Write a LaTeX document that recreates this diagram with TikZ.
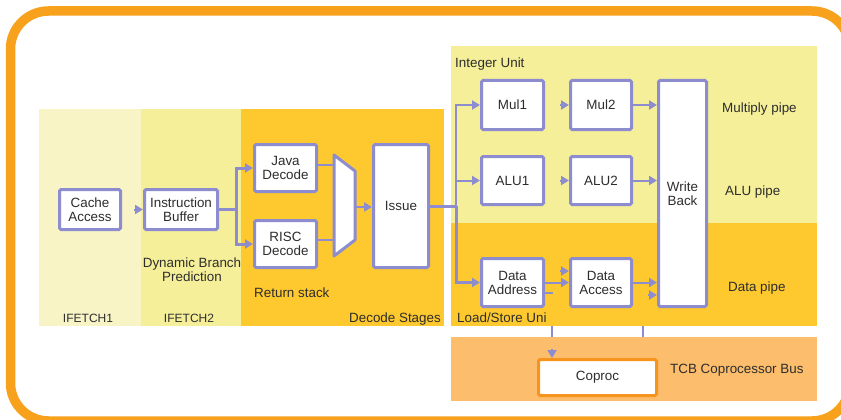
\documentclass[tikz,border=0pt]{standalone}
\usepackage{fontspec}
\setmainfont{Liberation Sans}
\usetikzlibrary{arrows.meta,calc}

\definecolor{frameorange}{RGB}{248,161,28}
\definecolor{paleband}{RGB}{248,244,198}
\definecolor{yellowband}{RGB}{245,239,153}
\definecolor{goldband}{RGB}{254,201,46}
\definecolor{busband}{RGB}{252,189,108}
\definecolor{pipeline}{RGB}{140,140,206}
\definecolor{coprocedge}{RGB}{247,148,29}
\definecolor{labeltext}{RGB}{45,45,45}

\begin{document}
\begin{tikzpicture}[x=1pt,y=-1pt,
  every node/.style={font=\fontsize{13.4}{14}\selectfont, text=labeltext, inner sep=0pt},
  stage/.style={draw=pipeline, line width=3pt, fill=white, rounded corners=1.5pt, align=center},
  coprocbox/.style={draw=coprocedge, line width=3pt, fill=white, rounded corners=1.5pt},
  link/.style={draw=pipeline, line width=2pt},
  heavy/.style={draw=pipeline, line width=3pt},
  tip/.style={-{Triangle[length=8pt,width=9pt]}},
  smallcaps/.style={font=\fontsize{12}{14}\selectfont}]

\useasboundingbox (0,0) rectangle (841,420);
\clip (0,0) rectangle (841,420);
\fill[white] (0,0) rectangle (841,420);

% outer rounded frame
\draw[frameorange, line width=9.5pt, rounded corners=38pt] (10.5,11) rectangle (850,421);

% stage bands
\fill[paleband]   (39,109)  rectangle (141,326);
\fill[yellowband] (141,109) rectangle (241,326);
\fill[goldband]   (241,109) rectangle (444,326);
\fill[yellowband] (451,46)  rectangle (817,223);
\fill[goldband]   (451,223) rectangle (817,326);
\fill[busband]    (451,337) rectangle (817,401);

% band labels
\node[smallcaps, anchor=base] (lif1) at (88,322) {IFETCH1};
\node[smallcaps, anchor=base] (lif2) at (189,322) {IFETCH2};
\node[anchor=base east] (ldec) at (441,322) {Decode Stages};
\node[align=center] (ldbp) at (192,269.5) {Dynamic Branch\\Prediction};
\node[anchor=base west] (lret) at (254,297) {Return stack};
\node[anchor=base west] (lint) at (455,67) {Integer Unit};
\node[anchor=base west] (lmul) at (722,112) {Multiply pipe};
\node[anchor=base west] (lalu) at (725,195) {ALU pipe};
\node[anchor=base west] (ldat) at (728,291) {Data pipe};
\node[anchor=base west] (lls)  at (457,322) {Load/Store Uni};
\node[anchor=base west] (ltcb) at (670,373) {TCB Coprocessor Bus};

% pipeline stages
\node[stage, minimum width=61, minimum height=40] (cache) at (90,209.5) {Cache\\Access};
\node[stage, minimum width=73, minimum height=40] (ibuf) at (181,209.5) {Instruction\\Buffer};
\node[stage, minimum width=62, minimum height=47] (java) at (285.5,168) {Java\\Decode};
\node[stage, minimum width=62, minimum height=47] (risc) at (285.5,244) {RISC\\Decode};
\node[stage, minimum width=55, minimum height=123] (issue) at (401,206) {Issue};
\node[stage, minimum width=62, minimum height=49] (mul1) at (512.5,105) {Mul1};
\node[stage, minimum width=61, minimum height=49] (mul2) at (601,105) {Mul2};
\node[stage, minimum width=62, minimum height=48] (alu1) at (512.5,180.5) {ALU1};
\node[stage, minimum width=61, minimum height=48] (alu2) at (601,180.5) {ALU2};
\node[stage, minimum width=62, minimum height=48] (daddr) at (512.5,282.5) {Data\\Address};
\node[stage, minimum width=61, minimum height=48] (dacc) at (601,282.5) {Data\\Access};
\node[stage, minimum width=48, minimum height=226] (wb) at (682.5,193.5) {Write\\Back};
\node[coprocbox, minimum width=118, minimum height=36] (coproc) at (597.5,377.5) {Coproc};

% decode multiplexer
\draw[draw=pipeline, line width=3pt, fill=white, line join=round]
  (334,155) -- (355,171) -- (355,240) -- (334,256) -- cycle;
\coordinate (muxjava) at (334,165);
\coordinate (muxrisc) at (334,240);
\coordinate (muxout)  at (355,207);

% fetch connectors
\draw[link,tip] ([xshift=-9pt]ibuf.west) -- (ibuf.west);
\coordinate (split) at (236,209.5);
\draw[heavy] (ibuf.east) -- (split);
\draw[heavy,tip] (split) |- (java.west);
\draw[heavy,tip] (split) |- (risc.west);

% decode connectors
\draw[link] (java.east |- muxjava) -- (muxjava);
\draw[link] (risc.east |- muxrisc) -- (muxrisc);
\draw[link,tip] (muxout) -- (issue.west |- muxout);

% issue fan-out
\coordinate (bus) at (456,206);
\draw[heavy] (issue.east |- bus) -- (bus);
\draw[heavy,tip] (bus) |- (daddr.west);
\draw[link,tip] (bus) |- (mul1.west);
\draw[link,tip] (bus) |- (alu1.west);

% execute pipes
\draw[link,tip] ([xshift=-9pt]mul2.west) -- (mul2.west);
\draw[link,tip] ([xshift=-9pt]alu2.west) -- (alu2.west);
\draw[link,tip] (mul2.east) -- (wb.west |- mul2.east);
\draw[link,tip] (alu2.east) -- (wb.west |- alu2.east);

% data pipe
\coordinate (daccupper) at (dacc.west |- 0,271);
\draw[link,tip] ([xshift=-9pt]daccupper) -- (daccupper);
\draw[link,tip] (daddr.east) -- (dacc.west);
\draw[link,tip] (dacc.east) -- (wb.west |- dacc.east);
\coordinate (wblower) at (wb.west |- 0,295);
\draw[link,tip] ([xshift=-9pt]wblower) -- (wblower);
\coordinate (stubend) at (553,293);
\draw[link] (daddr.east |- stubend) -- (stubend);

% coprocessor bus links
\coordinate (cpa) at (552,326);
\coordinate (cpb) at (552,337);
\coordinate (cpc) at (643,326);
\coordinate (cpd) at (643,337);
\draw[link] (cpa) -- (cpb);
\draw[link] (cpc) -- (cpd);
\coordinate (cpin) at (coproc.north -| cpa);
\draw[link,tip] ([yshift=9pt]cpin) -- (cpin);

\end{tikzpicture}
\end{document}
